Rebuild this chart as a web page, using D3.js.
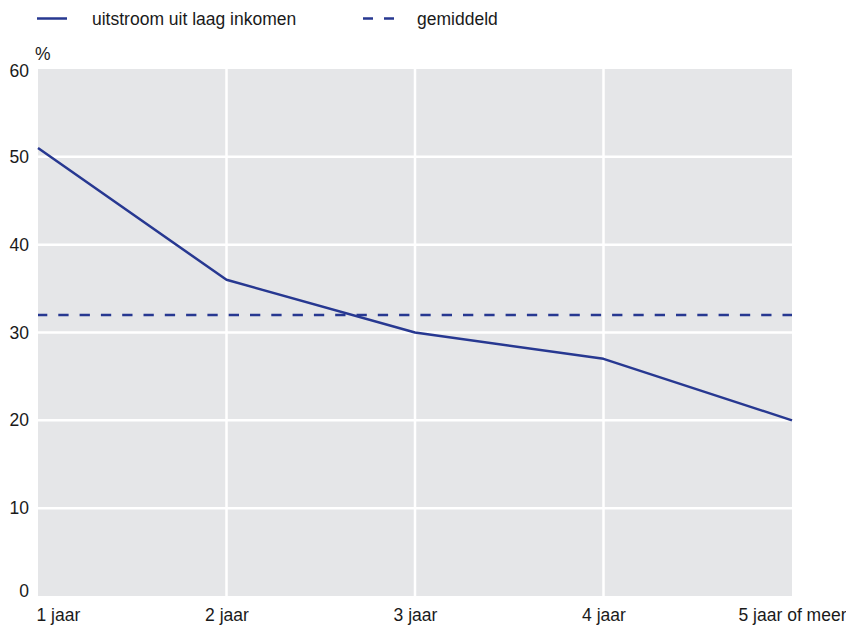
<!DOCTYPE html>
<html>
<head>
<meta charset="utf-8">
<script src="https://cdn.jsdelivr.net/npm/d3@7"></script>
<style>
  html, body { margin: 0; padding: 0; background: #ffffff; }
  svg { display: block; }
  text { font-family: "Liberation Sans", Arial, sans-serif; fill: #1a1a1a; }
</style>
</head>
<body>
<svg id="chart" width="846" height="625"></svg>
<script>
const categories = ["1 jaar", "2 jaar", "3 jaar", "4 jaar", "5 jaar of meer"];
const uitstroom = [51, 36, 30, 27, 20];
const gemiddeld = 32;
const yTicks = [0, 10, 20, 30, 40, 50, 60];
const seriesNames = ["uitstroom uit laag inkomen", "gemiddeld"];

const W = 846, H = 625;
const m = { left: 38, right: 54, top: 69, bottom: 29 };
const svg = d3.select("#chart");
const color = "#273891";
const fs = "17.5px";

const x = d3.scalePoint().domain(categories).range([m.left, W - m.right]);
const y = d3.scaleLinear().domain([0, 60]).range([H - m.bottom, m.top]);

// background
svg.append("rect")
  .attr("x", m.left).attr("y", m.top)
  .attr("width", W - m.right - m.left)
  .attr("height", (H - m.bottom) - m.top)
  .attr("fill", "#e5e6e8");

// gridlines
svg.append("g").selectAll("line")
  .data(yTicks.filter(d => d > 0 && d < 60))
  .join("line")
  .attr("x1", m.left).attr("x2", W - m.right)
  .attr("y1", d => y(d)).attr("y2", d => y(d))
  .attr("stroke", "#ffffff").attr("stroke-width", 2.5);

svg.append("g").selectAll("line")
  .data(categories.slice(1, -1))
  .join("line")
  .attr("x1", d => x(d)).attr("x2", d => x(d))
  .attr("y1", m.top).attr("y2", H - m.bottom)
  .attr("stroke", "#ffffff").attr("stroke-width", 2.5);

// y axis labels
const yAxis = d3.axisLeft(y).tickValues(yTicks).tickSize(0).tickPadding(9);
const gy = svg.append("g").attr("transform", `translate(${m.left},0)`).call(yAxis);
gy.select(".domain").remove();
gy.selectAll("text").attr("font-size", fs).style("font-family", '"Liberation Sans", Arial, sans-serif').attr("fill", "#1a1a1a")
  .attr("dy", d => d === 0 ? "0.05em" : (d === 60 ? "0.4em" : "0.32em"));

// x axis labels
const xAxis = d3.axisBottom(x).tickSize(0).tickPadding(0);
const gx = svg.append("g").attr("transform", `translate(0,${H - m.bottom})`).call(xAxis);
gx.select(".domain").remove();
gx.selectAll("text").attr("font-size", fs).style("font-family", '"Liberation Sans", Arial, sans-serif').attr("fill", "#1a1a1a")
  .attr("y", 25).attr("dy", 0)
  .attr("text-anchor", (d, i) => i === 0 ? "start" : "middle")
  .attr("dx", (d, i) => i === 0 ? -2 : 0);

// unit
svg.append("text").attr("x", 35).attr("y", 60).attr("font-size", fs).text("%");

// average line
svg.append("line")
  .attr("x1", m.left).attr("x2", W - m.right)
  .attr("y1", y(gemiddeld)).attr("y2", y(gemiddeld))
  .attr("stroke", color).attr("stroke-width", 2.5)
  .attr("stroke-dasharray", "10.3,11").attr("stroke-dashoffset", 1);

// series line
const line = d3.line().x((d, i) => x(categories[i])).y(d => y(d));
svg.append("path").datum(uitstroom)
  .attr("d", line)
  .attr("fill", "none").attr("stroke", color).attr("stroke-width", 2.5)
  .attr("stroke-linejoin", "round");

// legend
const lg = svg.append("g");
lg.append("line").attr("x1", 37).attr("x2", 67).attr("y1", 18.5).attr("y2", 18.5)
  .attr("stroke", color).attr("stroke-width", 2.5);
lg.append("text").attr("x", 92).attr("y", 25).attr("font-size", fs).text(seriesNames[0]);
lg.append("line").attr("x1", 363).attr("x2", 395).attr("y1", 18.5).attr("y2", 18.5)
  .attr("stroke", color).attr("stroke-width", 2.5).attr("stroke-dasharray", "10,11");
lg.append("text").attr("x", 417).attr("y", 25).attr("font-size", fs).text(seriesNames[1]);
</script>
</body>
</html>
